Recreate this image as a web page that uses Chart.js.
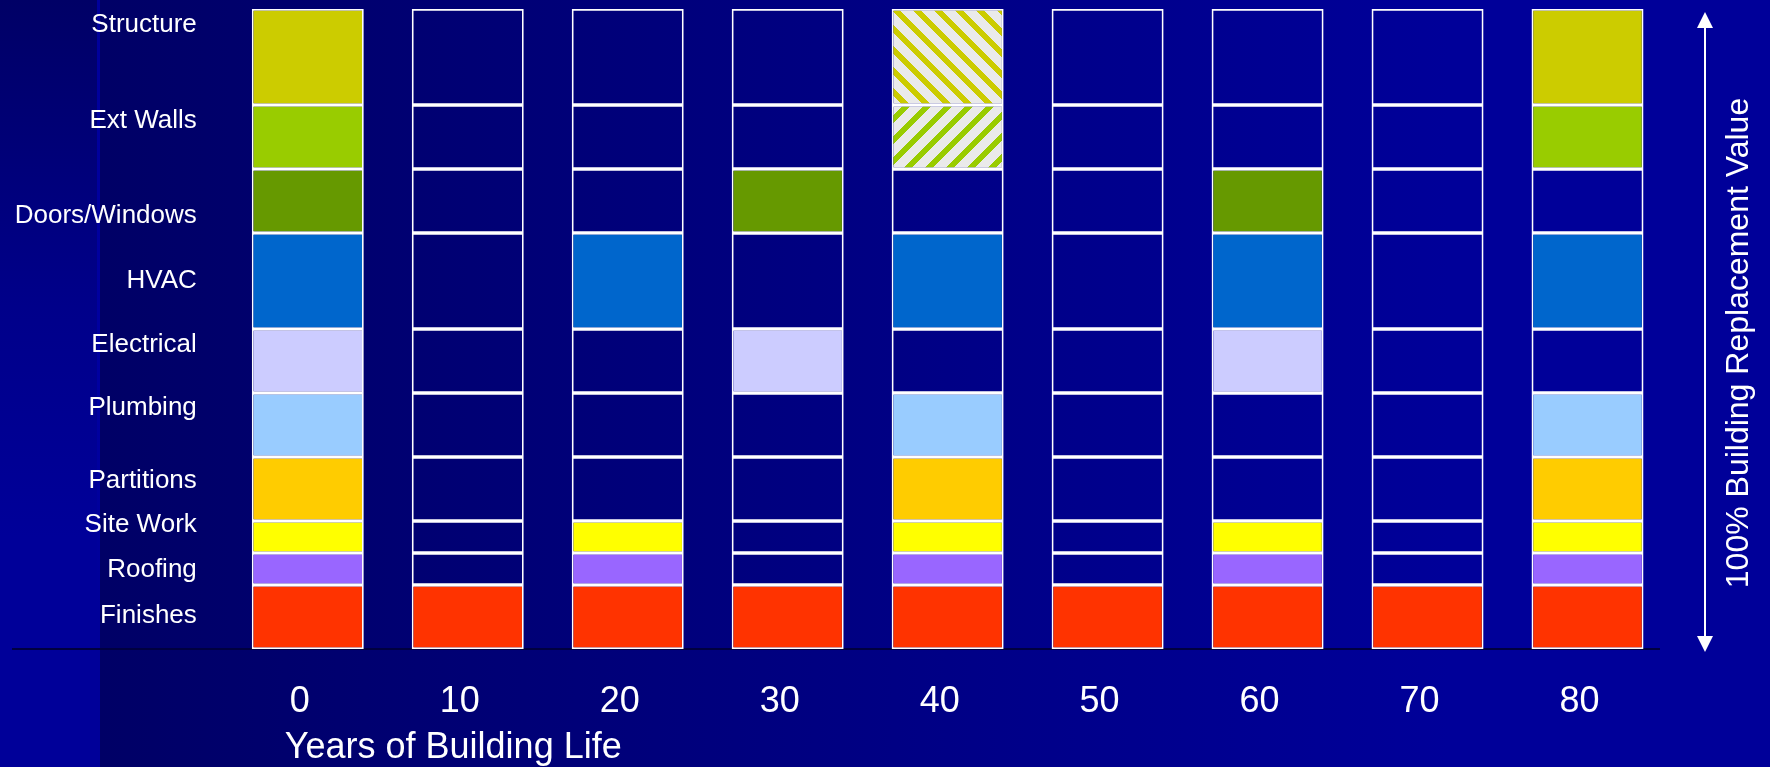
<!DOCTYPE html>
<html lang="en">
<head>
  <meta charset="UTF-8" />
  <title>Building component replacement over building life</title>
  <style>
    html, body { margin: 0; padding: 0; overflow: hidden; }
    body {
      width: 1770px; height: 767px; position: relative;
      background: linear-gradient(to right, #000066 0px, #000066 100px, #000099 1450px, #000099 1770px);
    }
    .strip { position: absolute; left: 0; top: 0; width: 97px; height: 767px;
      background: linear-gradient(to bottom, #000066 0%, #00008a 40%, #000099 70%, #000099 100%); }
    .strip-edge { position: absolute; left: 97px; top: 0; width: 3px; height: 767px;
      background: linear-gradient(to bottom, #00009a 0%, #0000a0 50%, #000099 80%); }
    .base-line { position: absolute; left: 12px; top: 648px; width: 1648px; height: 2px; background: #000040; }
    canvas { position: absolute; left: 0; top: 0; }
  </style>
</head>
<body>
  <div class="strip"></div>
  <div class="strip-edge"></div>
  <div class="base-line"></div>
  <canvas id="chart" width="1770" height="767"></canvas>

  <script src="https://cdn.jsdelivr.net/npm/chart.js"></script>
  <script>
    const years = ['0', '10', '20', '30', '40', '50', '60', '70', '80'];

    // components, bottom of the stack first
    const components = ['Finishes', 'Roofing', 'Site Work', 'Partitions', 'Plumbing',
                        'Electrical', 'HVAC', 'Doors/Windows', 'Ext Walls', 'Structure'];
    const componentColors = ['#FF3300', '#9966FF', '#FFFF00', '#FFCC00', '#99CCFF',
                             '#CCCCFF', '#0066CC', '#669900', '#99CC00', '#CCCC00'];
    const hatchDir = [null, null, null, null, null, null, null, null, '/', '\\'];

    // share of building replacement value (%) per year
    const finishes     = [10, 10, 10, 10, 10, 10, 10, 10, 10];
    const roofing      = [5, 5, 5, 5, 5, 5, 5, 5, 5];
    const siteWork     = [5, 5, 5, 5, 5, 5, 5, 5, 5];
    const partitions   = [10, 10, 10, 10, 10, 10, 10, 10, 10];
    const plumbing     = [10, 10, 10, 10, 10, 10, 10, 10, 10];
    const electrical   = [10, 10, 10, 10, 10, 10, 10, 10, 10];
    const hvac         = [15, 15, 15, 15, 15, 15, 15, 15, 15];
    const doorsWindows = [10, 10, 10, 10, 10, 10, 10, 10, 10];
    const extWalls     = [10, 10, 10, 10, 10, 10, 10, 10, 10];
    const structure    = [15, 15, 15, 15, 15, 15, 15, 15, 15];

    // 1 = replaced, 2 = partly replaced (hatched), 0 = not replaced
    const finishesRep     = [1, 1, 1, 1, 1, 1, 1, 1, 1];
    const roofingRep      = [1, 0, 1, 0, 1, 0, 1, 0, 1];
    const siteWorkRep     = [1, 0, 1, 0, 1, 0, 1, 0, 1];
    const partitionsRep   = [1, 0, 0, 0, 1, 0, 0, 0, 1];
    const plumbingRep     = [1, 0, 0, 0, 1, 0, 0, 0, 1];
    const electricalRep   = [1, 0, 0, 1, 0, 0, 1, 0, 0];
    const hvacRep         = [1, 0, 1, 0, 1, 0, 1, 0, 1];
    const doorsWindowsRep = [1, 0, 0, 1, 0, 0, 1, 0, 0];
    const extWallsRep     = [1, 0, 0, 0, 2, 0, 0, 0, 1];
    const structureRep    = [1, 0, 0, 0, 2, 0, 0, 0, 1];

    // row labels on the left and where they sit on the 0-100 scale
    const rowLabels = ['Structure', 'Ext Walls', 'Doors/Windows', 'HVAC', 'Electrical',
                       'Plumbing', 'Partitions', 'Site Work', 'Roofing', 'Finishes'];
    const rowLabelPos = [97.45, 82.45, 67.65, 57.45, 47.45, 37.65, 26.35, 19.35, 12.35, 5.25];

    const xTitle = 'Years of Building Life';
    const sideTitle = '100% Building Replacement Value';

    const shares = [finishes, roofing, siteWork, partitions, plumbing,
                    electrical, hvac, doorsWindows, extWalls, structure];
    const replaced = [finishesRep, roofingRep, siteWorkRep, partitionsRep, plumbingRep,
                      electricalRep, hvacRep, doorsWindowsRep, extWallsRep, structureRep];

    const FONT = '"Liberation Sans", Arial, sans-serif';
    Chart.defaults.font.family = FONT;

    // crisp diagonal stripes on light grey, like the original fill pattern
    function hatch(color, dir) {
      const s = 21, w = 8;
      const c = document.createElement('canvas');
      c.width = s; c.height = s;
      const g = c.getContext('2d');
      g.fillStyle = '#EAEAEA';
      g.fillRect(0, 0, s, s);
      g.fillStyle = color;
      for (let y = 0; y < s; y++) {
        for (let x = 0; x < s; x++) {
          const k = dir === '\\' ? ((x - y) % s + s) % s : (x + y) % s;
          if (k < w) g.fillRect(x, y, 1, 1);
        }
      }
      return g.createPattern(c, 'repeat');
    }

    const datasets = components.map((name, i) => ({
      label: name,
      data: shares[i],
      backgroundColor: replaced[i].map(r =>
        r === 1 ? componentColors[i] : r === 2 ? hatch(componentColors[i], hatchDir[i]) : 'rgba(0,0,0,0)'),
      borderColor: '#FFFFFF',
      borderWidth: 1.75,
      borderSkipped: false,
      barPercentage: 0.7,
      categoryPercentage: 1.0
    }));

    const extras = {
      id: 'extras',
      afterDraw(chart) {
        const { ctx, chartArea: a } = chart;
        ctx.save();
        ctx.fillStyle = '#FFFFFF';
        ctx.strokeStyle = '#FFFFFF';

        ctx.font = '36px ' + FONT;
        ctx.textAlign = 'left';
        ctx.textBaseline = 'middle';
        ctx.fillText(xTitle, a.left + 57, 748);

        // double headed arrow along the full height
        const ax = a.right + 37.5;
        const y0 = a.top + 3, y1 = a.bottom + 3;
        ctx.lineWidth = 2;
        ctx.beginPath();
        ctx.moveTo(ax, y0 + 10);
        ctx.lineTo(ax, y1 - 10);
        ctx.stroke();
        ctx.beginPath();
        ctx.moveTo(ax, y0);
        ctx.lineTo(ax - 8, y0 + 16);
        ctx.lineTo(ax + 8, y0 + 16);
        ctx.closePath();
        ctx.fill();
        ctx.beginPath();
        ctx.moveTo(ax, y1);
        ctx.lineTo(ax - 8, y1 - 16);
        ctx.lineTo(ax + 8, y1 - 16);
        ctx.closePath();
        ctx.fill();

        ctx.translate(a.right + 72, 343);
        ctx.rotate(-Math.PI / 2);
        ctx.textAlign = 'center';
        ctx.font = '32px ' + FONT;
        ctx.fillText(sideTitle, 0, 0);
        ctx.restore();
      }
    };

    const noPad = s => { s.paddingTop = 0; s.paddingBottom = 0; s.paddingLeft = 0; s.paddingRight = 0; };

    new Chart(document.getElementById('chart').getContext('2d'), {
      type: 'bar',
      data: { labels: years, datasets },
      plugins: [extras],
      options: {
        responsive: false,
        animation: false,
        devicePixelRatio: 1,
        layout: { padding: { left: 0, right: 102.5, top: 9, bottom: 0 } },
        plugins: { legend: { display: false }, tooltip: { enabled: false } },
        scales: {
          x: {
            stacked: true,
            grid: { display: false, drawTicks: false },
            border: { display: false },
            afterFit: s => { s.height = 118; noPad(s); },
            ticks: { color: '#FFFFFF', font: { size: 36 }, padding: 31, labelOffset: -8, maxRotation: 0 }
          },
          y: {
            stacked: true,
            min: 0,
            max: 100,
            grid: { display: false, drawTicks: false },
            border: { display: false },
            afterBuildTicks: s => { s.ticks = rowLabelPos.map(v => ({ value: v })); },
            afterFit: s => { s.width = 227.8; noPad(s); },
            ticks: {
              autoSkip: false,
              color: '#FFFFFF',
              font: { size: 26 },
              padding: 31,
              callback: (v, i) => rowLabels[i]
            }
          }
        }
      }
    });
  </script>
</body>
</html>
